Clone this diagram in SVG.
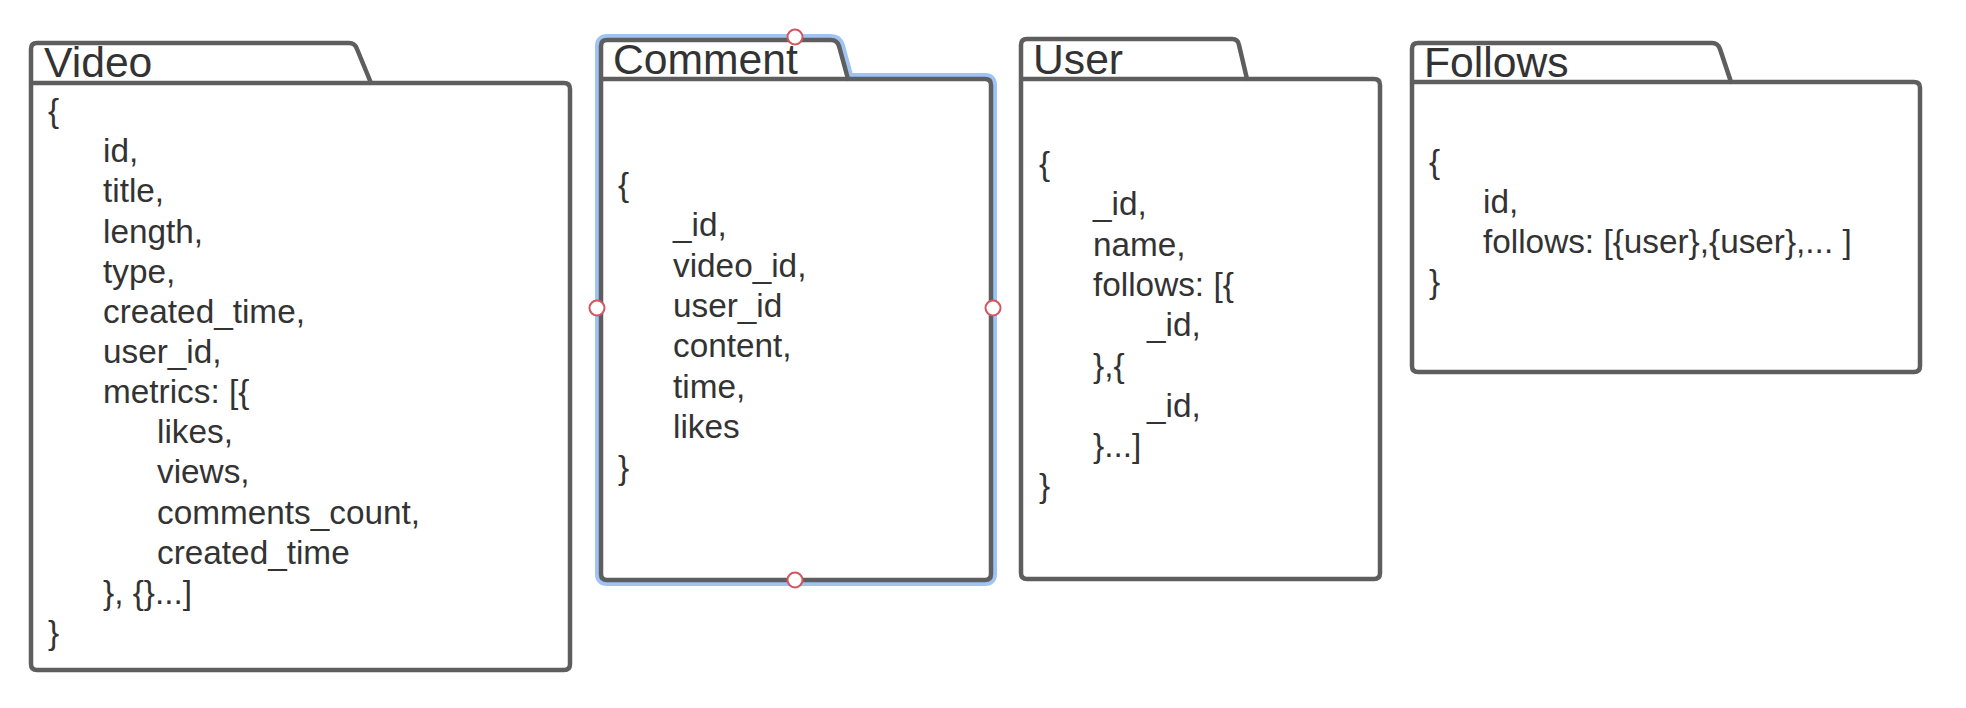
<svg xmlns="http://www.w3.org/2000/svg" width="1966" height="708" viewBox="0 0 1966 708">
<style>
.shape{fill:#ffffff;stroke:#5e5e5e;stroke-width:4.5;stroke-linejoin:round}
.sel{fill:#ffffff;stroke:#9ec3f7;stroke-width:12;stroke-linejoin:round}
.div{fill:none;stroke:#5e5e5e;stroke-width:4.5}
.title{font-family:"Liberation Sans",Arial,sans-serif;font-size:42.67px;fill:#333333}
.txt{font-family:"Liberation Sans",Arial,sans-serif;font-size:33.33px;fill:#333333}
.handle{fill:#ffffff;stroke:#d2555f;stroke-width:2}
</style>
<rect width="1966" height="708" fill="#ffffff"/>
<g id="video">
<path class="shape" d="M31,49 Q31,43 37,43 L349,43 Q355,43 357,49 L371,83 L564,83 Q570,83 570,89 L570,664 Q570,670 564,670 L37,670 Q31,670 31,664 Z"/>
<path class="div" d="M31,83 L371,83"/>
<text class="title" x="44" y="77">Video</text>
<text class="txt" x="48" y="122">{</text>
<text class="txt" x="103" y="162.2">id,</text>
<text class="txt" x="103" y="202.3">title,</text>
<text class="txt" x="103" y="242.5">length,</text>
<text class="txt" x="103" y="282.6">type,</text>
<text class="txt" x="103" y="322.8">created_time,</text>
<text class="txt" x="103" y="362.9">user_id,</text>
<text class="txt" x="103" y="403.1">metrics: [{</text>
<text class="txt" x="157" y="443.2">likes,</text>
<text class="txt" x="157" y="483.4">views,</text>
<text class="txt" x="157" y="523.5">comments_count,</text>
<text class="txt" x="157" y="563.7">created_time</text>
<text class="txt" x="103" y="603.8">}, {}...]</text>
<text class="txt" x="48" y="644">}</text>
</g>
<g id="comment">
<path class="sel" d="M601,46 Q601,40 607,40 L831,40 Q837,40 839,46 L848,79 L985,79 Q991,79 991,85 L991,574 Q991,580 985,580 L607,580 Q601,580 601,574 Z"/>
<path class="shape" d="M601,46 Q601,40 607,40 L831,40 Q837,40 839,46 L848,79 L985,79 Q991,79 991,85 L991,574 Q991,580 985,580 L607,580 Q601,580 601,574 Z"/>
<path class="div" d="M601,79 L848,79"/>
<text class="title" x="613" y="74">Comment</text>
<text class="txt" x="618" y="196">{</text>
<text class="txt" x="673" y="236.4">_id,</text>
<text class="txt" x="673" y="276.7">video_id,</text>
<text class="txt" x="673" y="317.1">user_id</text>
<text class="txt" x="673" y="357.4">content,</text>
<text class="txt" x="673" y="397.8">time,</text>
<text class="txt" x="673" y="438.2">likes</text>
<text class="txt" x="618" y="478.5">}</text>
<circle class="handle" cx="795" cy="37" r="7.5"/>
<circle class="handle" cx="597" cy="308" r="7.5"/>
<circle class="handle" cx="993" cy="308" r="7.5"/>
<circle class="handle" cx="795" cy="580" r="7.5"/>
</g>
<g id="user">
<path class="shape" d="M1021,45 Q1021,39 1027,39 L1232,39 Q1238,39 1239,45 L1247,79 L1374,79 Q1380,79 1380,85 L1380,573 Q1380,579 1374,579 L1027,579 Q1021,579 1021,573 Z"/>
<path class="div" d="M1021,79 L1247,79"/>
<text class="title" x="1033" y="74">User</text>
<text class="txt" x="1039" y="175">{</text>
<text class="txt" x="1093" y="215.3">_id,</text>
<text class="txt" x="1093" y="255.6">name,</text>
<text class="txt" x="1093" y="295.9">follows: [{</text>
<text class="txt" x="1147" y="336.2">_id,</text>
<text class="txt" x="1093" y="376.5">},{</text>
<text class="txt" x="1147" y="416.8">_id,</text>
<text class="txt" x="1093" y="457.1">}...]</text>
<text class="txt" x="1039" y="497.4">}</text>
</g>
<g id="follows">
<path class="shape" d="M1412,49 Q1412,43 1418,43 L1712,43 Q1718,43 1720,49 L1731,82 L1914,82 Q1920,82 1920,88 L1920,366 Q1920,372 1914,372 L1418,372 Q1412,372 1412,366 Z"/>
<path class="div" d="M1412,82 L1731,82"/>
<text class="title" x="1424" y="77">Follows</text>
<text class="txt" x="1429" y="173">{</text>
<text class="txt" x="1483" y="213">id,</text>
<text class="txt" x="1483" y="253">follows: [{user},{user},... ]</text>
<text class="txt" x="1429" y="293">}</text>
</g>
<g id="connectors"/>
</svg>
